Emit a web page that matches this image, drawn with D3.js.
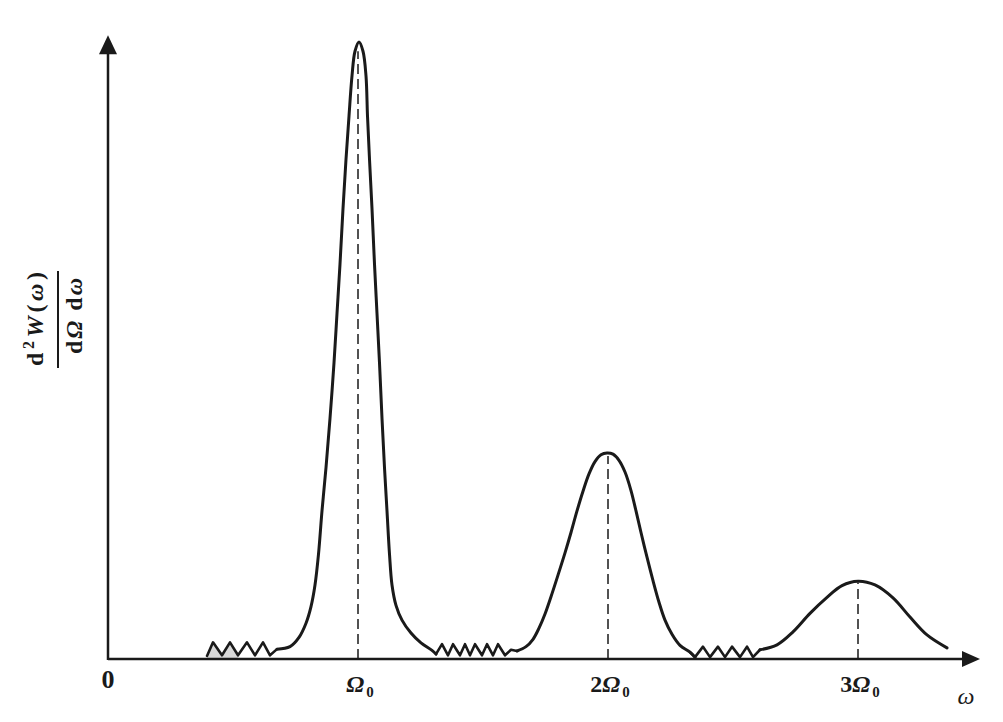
<!DOCTYPE html>
<html>
<head>
<meta charset="utf-8">
<script src="https://cdn.jsdelivr.net/npm/d3@7"></script>
<style>
  html, body { margin: 0; padding: 0; background: #fff; }
  svg { display: block; }
  text { font-family: "Liberation Serif", "DejaVu Serif", serif; fill: #1a1a1a; }
</style>
</head>
<body>
<svg id="chart" width="1003" height="722"></svg>
<script>
// ---------- data (ω in units of Ω0, intensity normalised to first peak) ----------
const harmonics = [1, 2, 3];
const harmonicLabels = ["", "2", "3"];          // prefix before Ω0
const peakValues = [1.0, 0.334, 0.126];
const originLabel = "0";
const xAxisTitle = "ω";
const axisMaxOmega = 3.488;
const axisMaxValue = 1.011;

// smooth peak segments
const peak1Omega = [0.676,0.728,0.764,0.792,0.812,0.828,0.842,0.856,0.872,0.888,0.904,0.916,0.928,0.94,0.952,0.964,0.976,0.988,1.004,1.02,1.032,1.038,1.046,1.056,1.066,1.076,1.086,1.096,1.106,1.116,1.126,1.136,1.152,1.176,1.212,1.252,1.296,1.312];
const peak1Value = [0.016,0.02,0.035,0.058,0.085,0.12,0.17,0.24,0.31,0.39,0.48,0.56,0.64,0.73,0.81,0.88,0.945,0.985,1.0,0.985,0.945,0.88,0.81,0.73,0.64,0.56,0.48,0.39,0.31,0.24,0.17,0.12,0.087,0.063,0.042,0.026,0.014,0.008];
const peak2Omega = [1.636,1.672,1.70,1.724,1.748,1.772,1.80,1.828,1.852,1.876,1.90,1.924,1.948,1.972,1.996,2.02,2.044,2.068,2.092,2.112,2.132,2.156,2.18,2.204,2.228,2.256,2.288,2.328,2.348];
const peak2Value = [0.013,0.02,0.032,0.05,0.073,0.101,0.136,0.172,0.205,0.24,0.272,0.30,0.32,0.331,0.334,0.332,0.322,0.303,0.273,0.24,0.205,0.165,0.127,0.092,0.063,0.04,0.022,0.011,0.003];
const peak3Omega = [2.608,2.676,2.74,2.808,2.876,2.936,3.0,3.068,3.14,3.208,3.276,3.356];
const peak3Value = [0.015,0.023,0.044,0.074,0.10,0.119,0.126,0.12,0.099,0.068,0.039,0.018];

// zig-zag (noise) segments
const zig1Omega = [0.396,0.42,0.456,0.488,0.52,0.556,0.588,0.62,0.648,0.676];
const zig1Value = [0.005,0.027,0.006,0.027,0.006,0.027,0.006,0.027,0.006,0.016];
const zig2Omega = [1.312,1.336,1.36,1.38,1.408,1.428,1.448,1.468,1.496,1.516,1.54,1.56,1.588,1.612,1.636];
const zig2Value = [0.008,0.024,0.006,0.024,0.006,0.024,0.006,0.024,0.006,0.024,0.006,0.024,0.006,0.015,0.013];
const zig3Omega = [2.328,2.348,2.38,2.408,2.44,2.468,2.496,2.528,2.556,2.58,2.608];
const zig3Value = [0.011,0.003,0.02,0.003,0.02,0.003,0.02,0.003,0.02,0.003,0.015];
// shaded piece under first teeth
const shadeOmega = [0.396,0.42,0.456,0.488,0.52];
const shadeValue = [0.005,0.027,0.006,0.027,0.006];

// ---------- drawing ----------
const svg = d3.select("#chart");
const x = d3.scaleLinear().domain([0, 1]).range([108, 358]);
const y = d3.scaleLinear().domain([0, 1]).range([659, 42]);
const ink = "#1a1a1a";

const zip = (a, b) => a.map((d, i) => [d, b[i]]);
const smooth = d3.line().x(d => x(d[0])).y(d => y(d[1])).curve(d3.curveCatmullRom.alpha(0.5));
const straight = d3.line().x(d => x(d[0])).y(d => y(d[1]));

// shaded area
svg.append("path")
  .attr("d", d3.area().x(d => x(d[0])).y0(y(0)).y1(d => y(d[1]))(zip(shadeOmega, shadeValue)))
  .attr("fill", "#d9d9d9");

// dashed guide lines at harmonics
harmonics.forEach((h, i) => {
  svg.append("line")
    .attr("x1", x(h)).attr("x2", x(h))
    .attr("y1", y(0)).attr("y2", y(peakValues[i] * 0.985))
    .attr("stroke", ink).attr("stroke-width", 1.5)
    .attr("stroke-dasharray", "10,5");
});

// axes
svg.append("line").attr("x1", x(0)).attr("y1", y(0)).attr("x2", x(axisMaxOmega) - 16).attr("y2", y(0))
  .attr("stroke", ink).attr("stroke-width", 2.5);
svg.append("line").attr("x1", x(0)).attr("y1", y(0) + 1).attr("x2", x(0)).attr("y2", y(axisMaxValue) + 16)
  .attr("stroke", ink).attr("stroke-width", 2.5);
// arrowheads
const xt = x(axisMaxOmega), yt = y(0);
svg.append("path").attr("d", `M${xt},${yt} L${xt - 18},${yt - 8} L${xt - 18},${yt + 8} Z`).attr("fill", ink);
const xa = x(0), ya = y(axisMaxValue);
svg.append("path").attr("d", `M${xa},${ya} L${xa - 9},${ya + 19} L${xa + 9},${ya + 19} Z`).attr("fill", ink);

// curve segments
const curveStyle = p => p.attr("fill", "none").attr("stroke", ink).attr("stroke-width", 3)
  .attr("stroke-linejoin", "round").attr("stroke-linecap", "round");
[[zig1Omega, zig1Value], [zig2Omega, zig2Value], [zig3Omega, zig3Value]].forEach(([o, v]) => {
  svg.append("path").attr("d", straight(zip(o, v))).call(curveStyle).attr("stroke-width", 2.6);
});
[[peak1Omega, peak1Value], [peak2Omega, peak2Value], [peak3Omega, peak3Value]].forEach(([o, v]) => {
  svg.append("path").attr("d", smooth(zip(o, v))).call(curveStyle);
});

// tick labels
svg.append("text").attr("x", x(0)).attr("y", 688).attr("text-anchor", "middle")
  .attr("font-size", 26).attr("font-weight", "bold").text(originLabel);
harmonics.forEach((h, i) => {
  const t = svg.append("text").attr("x", x(h) + 2).attr("y", 692).attr("text-anchor", "middle")
    .attr("font-size", 24).attr("font-weight", "bold");
  if (harmonicLabels[i]) t.append("tspan").text(harmonicLabels[i]);
  t.append("tspan").attr("font-style", "italic").text("Ω");
  t.append("tspan").attr("font-size", 15).attr("dy", 5).attr("dx", 2).text("0");
});
svg.append("text").attr("x", 966).attr("y", 704).attr("text-anchor", "middle")
  .attr("font-size", 24).attr("font-style", "italic").text(xAxisTitle);

// y title (rotated fraction)
const g = svg.append("g");
const num = g.append("text").attr("transform", "translate(43,319) rotate(-90)")
  .attr("text-anchor", "middle").attr("font-size", 24).attr("font-weight", "bold")
  .attr("textLength", 94).attr("lengthAdjust", "spacing");
num.append("tspan").text("d");
num.append("tspan").attr("font-size", 16).attr("dy", -9).text("2");
num.append("tspan").attr("dy", 9).attr("font-style", "italic").text("W");
num.append("tspan").text("(");
num.append("tspan").attr("font-style", "italic").text("ω");
num.append("tspan").text(")");
g.append("line").attr("x1", 58).attr("x2", 58).attr("y1", 271).attr("y2", 368)
  .attr("stroke", ink).attr("stroke-width", 2);
const den = g.append("text").attr("transform", "translate(82,316) rotate(-90)")
  .attr("text-anchor", "middle").attr("font-size", 24).attr("font-weight", "bold")
  .attr("textLength", 76).attr("lengthAdjust", "spacing");
den.append("tspan").text("d");
den.append("tspan").attr("font-style", "italic").text("Ω");
den.append("tspan").text(" d");
den.append("tspan").attr("font-style", "italic").text("ω");
</script>
</body>
</html>
